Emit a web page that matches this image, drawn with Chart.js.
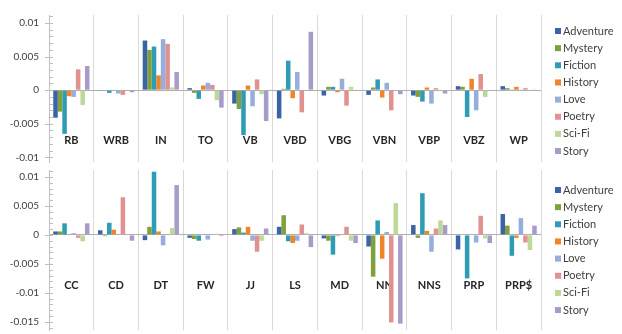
<!DOCTYPE html>
<html>
<head>
<meta charset="utf-8">
<script src="https://cdn.jsdelivr.net/npm/chart.js@4/dist/chart.umd.min.js"></script>
<style>
  body { margin: 0; background: #fff; }
  canvas { display: block; }
</style>
</head>
<body>
<canvas id="topChart" width="622" height="167"></canvas>
<canvas id="bottomChart" width="622" height="167"></canvas>
<script>
// Series and categories
const seriesNames = ['Adventure', 'Mystery', 'Fiction', 'History', 'Love', 'Poetry', 'Sci-Fi', 'Story'];
const seriesColors = ['#3b63a6', '#7fa13d', '#2f9bb4', '#ef8428', '#95aedb', '#e19190', '#bdd899', '#a79bc9'];

const topCategories = ['RB', 'WRB', 'IN', 'TO', 'VB', 'VBD', 'VBG', 'VBN', 'VBP', 'VBZ', 'WP'];
const bottomCategories = ['CC', 'CD', 'DT', 'FW', 'JJ', 'LS', 'MD', 'NN', 'NNS', 'PRP', 'PRP$'];

const topTicks = [0.01, 0.005, 0, -0.005, -0.01];
const bottomTicks = [0.01, 0.005, 0, -0.005, -0.01, -0.015];

// top panel values (one array per series)
const topAdventure = [-0.0041, -0.0001, 0.0074, 0.0003, -0.0020, -0.0042, -0.0008, -0.0007, -0.0008, 0.0006, 0.0006];
const topMystery   = [-0.0032, -0.0001, 0.0060, -0.0004, -0.0028, 0.0002, 0.0005, 0.0004, -0.0010, 0.0005, 0.0003];
const topFiction   = [-0.0065, -0.0004, 0.0065, -0.0013, -0.0067, 0.0044, 0.0005, 0.0016, -0.0017, -0.0040, 0.0001];
const topHistory   = [-0.0009, 0.0000, 0.0022, 0.0007, 0.0007, -0.0012, -0.0003, -0.0011, 0.0004, 0.0017, 0.0005];
const topLove      = [-0.0010, -0.0005, 0.0076, 0.0011, -0.0024, 0.0027, 0.0017, 0.0011, -0.0020, -0.0030, 0.0001];
const topPoetry    = [0.0031, -0.0007, 0.0069, 0.0008, 0.0016, -0.0033, -0.0023, -0.0030, 0.0003, 0.0024, 0.0003];
const topSciFi     = [-0.0022, 0.0000, 0.0004, -0.0015, -0.0006, 0.0000, 0.0005, 0.0000, 0.0000, -0.0010, 0.0000];
const topStory     = [0.0036, -0.0003, 0.0027, -0.0026, -0.0046, 0.0087, 0.0001, -0.0006, -0.0005, 0.0000, 0.0001];

// bottom panel values
const bottomAdventure = [0.0006, 0.0008, -0.0009, -0.0005, 0.0010, 0.0014, -0.0006, -0.0020, 0.0017, -0.0025, 0.0036];
const bottomMystery   = [0.0006, -0.0002, 0.0014, -0.0007, 0.0013, 0.0034, -0.0010, -0.0072, -0.0005, 0.0000, 0.0016];
const bottomFiction   = [0.0020, 0.0021, 0.0109, -0.0010, 0.0004, -0.0011, -0.0034, 0.0025, 0.0072, -0.0075, -0.0036];
const bottomHistory   = [0.0000, 0.0009, 0.0006, 0.0000, 0.0014, -0.0014, -0.0002, -0.0041, 0.0007, 0.0000, -0.0005];
const bottomLove      = [0.0003, 0.0000, -0.0018, -0.0008, -0.0010, -0.0010, -0.0001, 0.0005, -0.0029, -0.0013, 0.0029];
const bottomPoetry    = [-0.0005, 0.0065, 0.0000, 0.0000, -0.0029, 0.0018, 0.0014, -0.0151, 0.0011, 0.0033, -0.0013];
const bottomSciFi     = [-0.0011, 0.0000, 0.0012, 0.0002, -0.0010, 0.0003, -0.0010, 0.0055, 0.0025, -0.0006, -0.0026];
const bottomStory     = [0.0020, -0.0010, 0.0086, -0.0002, 0.0011, -0.0021, -0.0014, -0.0153, 0.0017, -0.0014, 0.0016];

const topSeries = [topAdventure, topMystery, topFiction, topHistory, topLove, topPoetry, topSciFi, topStory];
const bottomSeries = [bottomAdventure, bottomMystery, bottomFiction, bottomHistory, bottomLove, bottomPoetry, bottomSciFi, bottomStory];

const FONT = 'Lato, "Open Sans", sans-serif';

// tick marks, category labels and legend
const decorPlugin = {
    id: 'decor',
    beforeDatasetsDraw(chart, args, opts) {
        const ctx = chart.ctx;
        const xs = chart.scales.x, ys = chart.scales.y;
        ctx.save();
        ctx.font = 'bold 11px ' + FONT;
        ctx.fillStyle = '#262626';
        ctx.textAlign = 'center';
        ctx.textBaseline = 'middle';
        const ly = ys.getPixelForValue(opts.labelValue);
        chart.data.labels.forEach(function (lab, i) {
            ctx.fillText(lab, xs.getPixelForValue(i), ly);
        });
        ctx.restore();
    },
    afterDraw(chart, args, opts) {
        const ctx = chart.ctx;
        const ys = chart.scales.y;
        const left = chart.chartArea.left;
        ctx.save();
        ctx.strokeStyle = '#bfbfbf';
        ctx.lineWidth = 1;
        for (let k = Math.ceil(ys.min * 1000 - 1e-6); k <= Math.floor(ys.max * 1000 + 1e-6); k++) {
            const py = Math.round(ys.getPixelForValue(k / 1000)) + 0.5;
            const major = k % 5 === 0;
            ctx.beginPath();
            ctx.moveTo(major ? left - 4 : left, py);
            ctx.lineTo(left + 4, py);
            ctx.stroke();
        }
        // legend
        ctx.font = '11px ' + FONT;
        ctx.textAlign = 'left';
        ctx.textBaseline = 'middle';
        const lx = chart.chartArea.right + 14;
        chart.data.datasets.forEach(function (ds, i) {
            const cy = opts.legendTop + i * 17.15;
            ctx.fillStyle = ds.backgroundColor;
            ctx.fillRect(lx, cy - 3, 6, 6);
            ctx.fillStyle = '#404040';
            ctx.fillText(ds.label, lx + 8, cy);
        });
        ctx.restore();
    }
};

function makeChart(id, categories, series, ticks, yMin, yMax, padTop, padBottom, labelValue, legendTop) {
    const datasets = series.map(function (vals, i) {
        return {
            label: seriesNames[i],
            data: vals,
            backgroundColor: seriesColors[i],
            borderWidth: 0,
            categoryPercentage: 0.81,
            barPercentage: 1.0
        };
    });
    return new Chart(document.getElementById(id), {
        type: 'bar',
        data: { labels: categories, datasets: datasets },
        options: {
            responsive: false,
            animation: false,
            events: [],
            layout: { autoPadding: false, padding: { left: 0, right: 81, top: padTop, bottom: padBottom } },
            plugins: {
                legend: { display: false },
                tooltip: { enabled: false },
                decor: { labelValue: labelValue, legendTop: legendTop }
            },
            scales: {
                x: {
                    ticks: { display: false },
                    grid: { offset: true, color: '#d9d9d9', drawTicks: false },
                    border: { display: false },
                    afterFit: function (scale) { scale.height = 0; }
                },
                y: {
                    min: yMin,
                    max: yMax,
                    afterBuildTicks: function (scale) {
                        scale.ticks = ticks.map(function (v) { return { value: v }; });
                    },
                    afterFit: function (scale) {
                        scale.width = 49;
                        scale.paddingTop = 0;
                        scale.paddingBottom = 0;
                    },
                    ticks: {
                        padding: 10,
                        color: '#404040',
                        font: { family: FONT, size: 10 },
                        callback: function (v) { return String(v); }
                    },
                    grid: {
                        drawTicks: false,
                        color: function (c) { return c.tick && c.tick.value === 0 ? '#b0b0b0' : 'rgba(0,0,0,0)'; }
                    },
                    border: { display: true, color: '#bfbfbf' }
                }
            }
        },
        plugins: [decorPlugin]
    });
}

makeChart('topChart', topCategories, topSeries, topTicks, -0.0107, 0.0112, 15, 5, -0.00745, 31);
makeChart('bottomChart', bottomCategories, bottomSeries, bottomTicks, -0.0164, 0.0112, 3, 4, -0.0088, 23);
</script>
</body>
</html>
